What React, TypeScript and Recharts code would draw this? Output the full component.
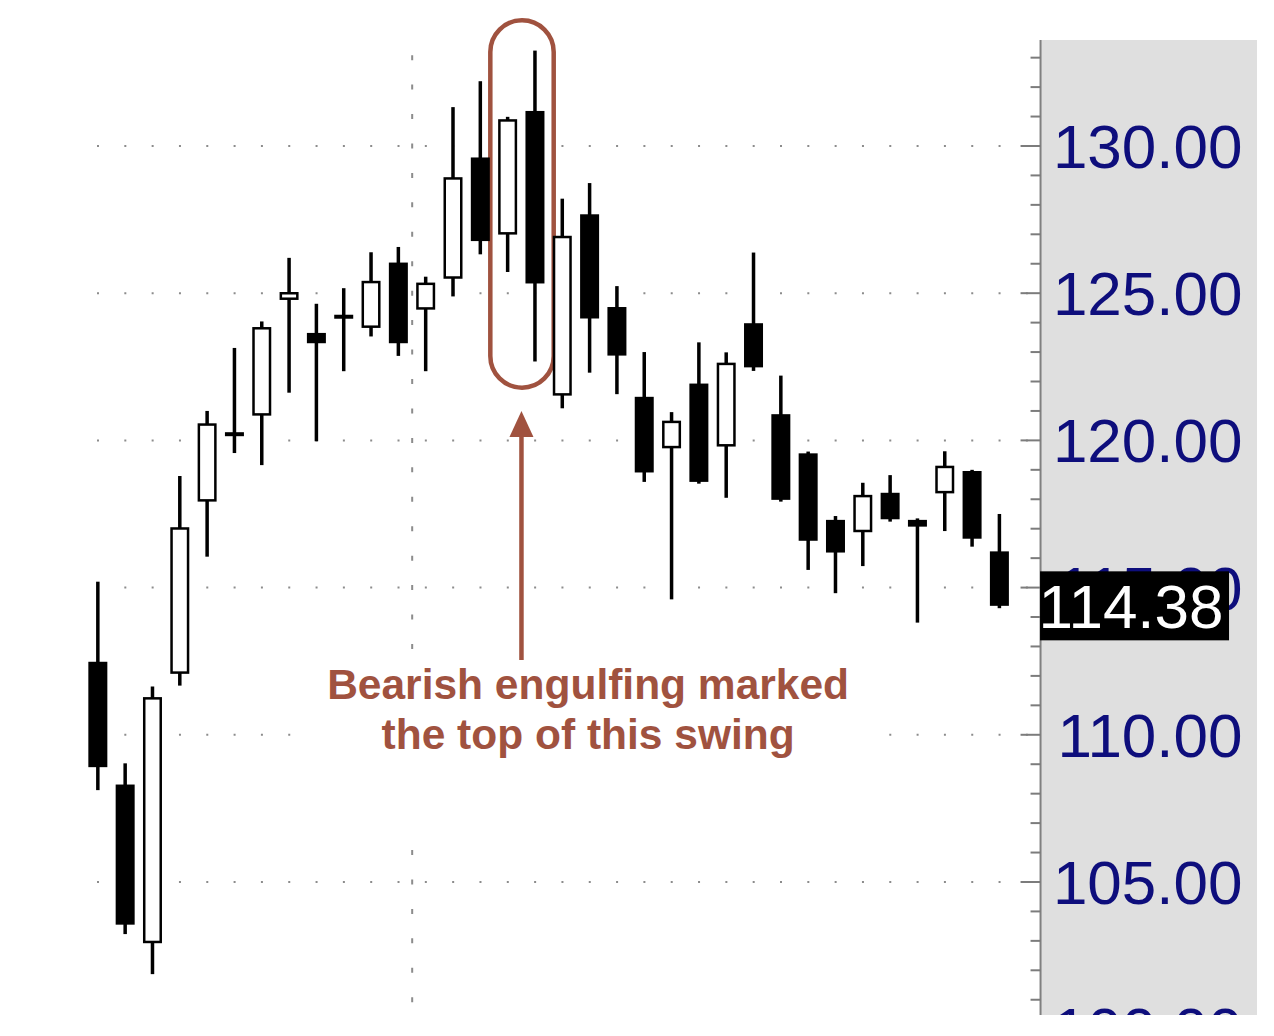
import React from 'react';
import {
  ComposedChart,
  Bar,
  XAxis,
  YAxis,
  CartesianGrid,
  ReferenceArea,
  ReferenceLine,
  ReferenceDot,
} from 'recharts';

// ---- data ----
const opens = [
  112.48, 108.31, 102.92, 112.07, 117.92, 120.21, 120.84, 124.77, 123.65, 124.2,
  123.82, 126.04, 124.44, 125.49, 129.61, 126.99, 131.19, 121.52, 127.68, 124.53,
  121.48, 119.73, 121.93, 119.79, 123.98, 120.89, 119.56, 117.3, 116.88, 118.22,
  117.3, 118.2, 118.96, 116.23,
];
const highs = [
  115.2, 109.03, 111.64, 118.79, 121.0, 123.14, 124.04, 126.2, 124.64, 125.17,
  126.39, 126.57, 125.56, 131.32, 132.2, 130.99, 133.24, 128.21, 128.74, 125.24,
  123.0, 120.96, 123.33, 122.99, 126.38, 122.2, 119.62, 117.43, 118.56, 118.82,
  117.35, 119.63, 119.0, 117.5,
];
const lows = [
  108.12, 103.23, 101.87, 111.67, 116.05, 119.57, 119.16, 121.62, 119.97, 122.35,
  123.53, 122.87, 122.35, 124.89, 126.32, 125.72, 122.68, 121.09, 122.3, 121.57,
  118.59, 114.6, 118.53, 118.05, 122.36, 117.92, 115.6, 114.81, 115.73, 117.24,
  113.81, 116.92, 116.39, 114.3,
];
const closes = [
  108.9, 103.55, 111.28, 117.05, 120.58, 120.21, 123.85, 125.04, 123.3, 124.2,
  125.42, 123.3, 125.36, 128.94, 126.77, 130.91, 125.33, 126.95, 124.14, 122.88,
  118.91, 120.67, 118.59, 122.64, 122.48, 117.98, 116.59, 116.19, 118.15, 117.32,
  117.07, 119.14, 116.66, 114.38,
];
const lastPrice = 114.38;
const axisTicks = [
  100, 101, 102, 103, 104, 105, 106, 107, 108, 109, 110, 111, 112, 113, 114, 115, 116,
  117, 118, 119, 120, 121, 122, 123, 124, 125, 126, 127, 128, 129, 130, 131, 132, 133,
];
// the last-price tag is rendered last so it sits on top of the 115.00 label
const yTicks = [...axisTicks, lastPrice];
const majorLevels = [105, 110, 115, 120, 125, 130];
const separatorAt = [11.5];
const noteLines = ['Bearish engulfing marked', 'the top of this swing'];

const data = opens.map((open, i) => ({
  i,
  open,
  high: highs[i],
  low: lows[i],
  close: closes[i],
  range: [lows[i], highs[i]],
}));

const BROWN = '#a0523f';
const NAVY = '#0e0e7c';
const FONT = "'Liberation Sans', Arial, sans-serif";

const Candle = (props: any) => {
  const { x, y, width, height, payload } = props;
  if (!payload) return null;
  const { open, close, high, low } = payload;
  const top = Math.min(y, y + height);
  const h = Math.abs(height);
  const ratio = h / (high - low);
  const yOf = (v: number) => top + (high - v) * ratio;
  const cx = x + width / 2;
  let bt = yOf(Math.max(open, close));
  let bh = yOf(Math.min(open, close)) - bt;
  const minH = 4;
  if (bh < minH) {
    bt -= (minH - bh) / 2;
    bh = minH;
  }
  const bull = close > open;
  return (
    <g>
      <rect x={cx - 1.75} y={top} width={3.5} height={h} fill="#000" />
      {bull ? (
        <rect
          x={x + 1.25}
          y={bt + 1.25}
          width={width - 2.5}
          height={Math.max(bh - 2.5, 1)}
          fill="#fff"
          stroke="#000"
          strokeWidth={2.5}
        />
      ) : (
        <rect x={x} y={bt} width={width} height={bh} fill="#000" />
      )}
    </g>
  );
};

const renderTick = (props: any) => {
  const { x, y, payload } = props;
  const v = payload.value;
  if (v === lastPrice) {
    return (
      <g>
        <rect x={x - 0.5} y={y - 34.5} width={189} height={69} fill="#000" />
        <text x={x - 2} y={y + 22} fontFamily={FONT} fontSize={62} fill="#fff">
          {lastPrice.toFixed(2)}
        </text>
      </g>
    );
  }
  const major = v % 5 === 0;
  return (
    <g>
      <line x1={x - (major ? 20 : 10)} x2={x} y1={y} y2={y} stroke="#7c7c7c" strokeWidth={2} />
      {major && (
        <text x={x + 202} y={y + 22} textAnchor="end" fontFamily={FONT} fontSize={62} fill={NAVY}>
          {v.toFixed(2)}
        </text>
      )}
    </g>
  );
};

const PillShape = (props: any) => {
  const { x, y, width, height } = props;
  return (
    <rect
      x={x}
      y={y}
      width={width}
      height={height}
      rx={width / 2}
      ry={width / 2}
      fill="none"
      stroke={BROWN}
      strokeWidth={4.5}
    />
  );
};

const WhiteBox = (props: any) => {
  const { x, y, width, height } = props;
  return <rect x={x} y={y} width={width} height={height} fill="#fff" stroke="none" />;
};

const ArrowShape = (props: any) => {
  const { x1, y1, x2, y2 } = props;
  const cx = (x1 + x2) / 2;
  const tip = Math.min(y1, y2);
  const bottom = Math.max(y1, y2);
  return (
    <g>
      <line x1={cx} x2={cx} y1={bottom} y2={tip + 20} stroke={BROWN} strokeWidth={4.5} />
      <polygon points={`${cx},${tip} ${cx - 12},${tip + 26} ${cx + 12},${tip + 26}`} fill={BROWN} />
    </g>
  );
};

const NoteText = (props: any) => {
  const { cx, cy } = props;
  return (
    <text
      x={cx}
      y={cy}
      textAnchor="middle"
      fontFamily={FONT}
      fontWeight="bold"
      fontSize={42.5}
      fill={BROWN}
    >
      <tspan x={cx} dy={0}>
        {noteLines[0]}
      </tspan>
      <tspan x={cx} dy={50}>
        {noteLines[1]}
      </tspan>
    </text>
  );
};

export default function App() {
  return (
    <div style={{ position: 'absolute', left: 0, top: 0, width: 1274, height: 1036, background: '#fff' }}>
      <div
        style={{
          position: 'absolute',
          left: 1040.5,
          top: 40,
          width: 216.5,
          height: 975,
          background: '#dfdfdf',
        }}
      />
      <div style={{ position: 'absolute', left: 0, top: 0, width: 1274, height: 1015, overflow: 'hidden' }}>
        <ComposedChart
          width={1274}
          height={1080}
          data={data}
          margin={{ top: 40, right: 0, bottom: 21.38, left: 84.34 }}
        >
          <CartesianGrid
            vertical={false}
            horizontalValues={majorLevels}
            stroke="#8c8c8c"
            strokeWidth={2}
            strokeDasharray="0 12.66 2 12.66"
          />
          <CartesianGrid
            horizontal={false}
            verticalValues={separatorAt}
            stroke="#8c8c8c"
            strokeWidth={2}
            strokeDasharray="0 15.16 5 9.28"
          />
          <XAxis type="number" dataKey="i" domain={[-0.5, 34.5]} allowDataOverflow hide />
          <YAxis
            orientation="right"
            type="number"
            domain={[99, 133.6]}
            allowDataOverflow
            ticks={yTicks}
            interval={0}
            tickSize={0}
            tickMargin={0}
            tickLine={false}
            axisLine={{ stroke: '#808080', strokeWidth: 2 }}
            width={233.46}
            tick={renderTick}
          />
          <ReferenceArea x1={7.5} x2={28.5} y1={106.5} y2={112.5} shape={WhiteBox} />
          <Bar dataKey="range" barSize={19} shape={Candle} isAnimationActive={false} />
          <ReferenceArea
            x1={14.36}
            x2={16.68}
            y1={121.79}
            y2={134.27}
            ifOverflow="visible"
            shape={PillShape}
          />
          <ReferenceLine
            segment={[
              { x: 15.5, y: 112.54 },
              { x: 15.5, y: 121.0 },
            ]}
            shape={ArrowShape}
          />
          <ReferenceDot x={17.94} y={111.21} r={1} shape={NoteText} />
        </ComposedChart>
      </div>
    </div>
  );
}
